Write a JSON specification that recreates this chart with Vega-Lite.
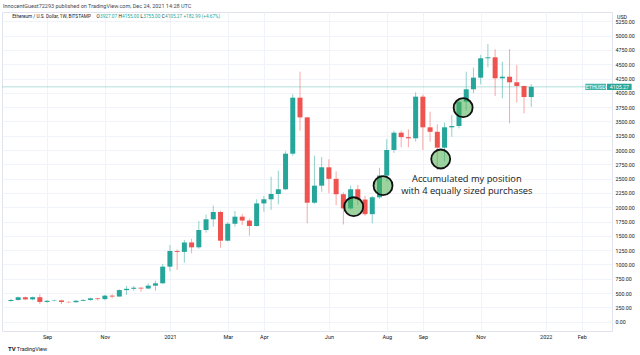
{
  "$schema": "https://vega.github.io/schema/vega-lite/v6.json",
  "autosize": {"type": "none"},
  "width": 610,
  "height": 319,
  "padding": {"left": 2, "top": 12, "right": 28, "bottom": 24},
  "background": "white",
  "config": {
    "font": "Roboto",
    "view": {"stroke": "#e0e3eb", "strokeWidth": 1}
  },
  "title": {
    "text": "InnocentGuest72293 published on TradingView.com, Dec 24, 2021 14:28 UTC",
    "anchor": "start",
    "frame": "group",
    "fontSize": 5.5,
    "fontWeight": "normal",
    "color": "#434651",
    "offset": 2.5,
    "dx": 1
  },
  "resolve": {"axis": {"x": "independent", "y": "independent"}},
  "layer": [
    {
      "data": {"name": "ohlc"},
      "mark": {"type": "rule", "strokeWidth": 1, "opacity": 0.5},
      "encoding": {
        "x": {
          "field": "date",
          "type": "temporal",
          "scale": {"type": "utc", "domain": [{"year": 2020, "month": 7, "date": 30, "hours": 4, "minutes": 48, "utc": true}, {"year": 2022, "month": 3, "date": 3, "hours": 8, "minutes": 24, "utc": true}], "nice": false},
          "axis": {
            "orient": "bottom",
            "title": null,
            "values": [
              {"year": 2020, "month": 9, "date": 7, "utc": true},
              {"year": 2020, "month": 11, "date": 2, "utc": true},
              {"year": 2021, "month": 1, "date": 4, "utc": true},
              {"year": 2021, "month": 3, "date": 1, "utc": true},
              {"year": 2021, "month": 4, "date": 5, "utc": true},
              {"year": 2021, "month": 6, "date": 7, "utc": true},
              {"year": 2021, "month": 8, "date": 2, "utc": true},
              {"year": 2021, "month": 9, "date": 6, "utc": true},
              {"year": 2021, "month": 11, "date": 1, "utc": true},
              {"year": 2022, "month": 1, "date": 3, "utc": true},
              {"year": 2022, "month": 2, "date": 7, "utc": true}
            ],
            "labelExpr": "utcFormat(datum.value, '%m') == '01' ? utcFormat(datum.value, '%Y') : utcFormat(datum.value, '%b')",
            "grid": true,
            "gridColor": "#f0f3fa",
            "domain": false,
            "ticks": false,
            "labelPadding": 3,
            "labelFontSize": 5.5,
            "labelColor": "#131722",
            "labelOverlap": false
          }
        },
        "y": {
          "field": "low",
          "type": "quantitative",
          "scale": {"domain": [-162.7, 5414], "nice": false, "zero": false},
          "axis": {
            "orient": "right",
            "values": [0, 250, 500, 750, 1000, 1250, 1500, 1750, 2000, 2250, 2500, 2750, 3000, 3250, 3500, 3750, 4000, 4250, 4500, 4750, 5000, 5250],
            "format": ".2f",
            "grid": true,
            "gridColor": "#f0f3fa",
            "domain": false,
            "ticks": false,
            "labelPadding": 3,
            "labelFontSize": 5.3,
            "labelColor": "#131722",
            "labelOverlap": false,
            "title": "USD",
            "titleAngle": 0,
            "titleX": 9.5,
            "titleY": 4,
            "titleAlign": "center",
            "titleBaseline": "middle",
            "titleFontSize": 5.3,
            "titleFontWeight": "normal",
            "titleColor": "#131722"
          }
        },
        "y2": {"field": "high"},
        "color": {"condition": {"test": "datum.close >= datum.open", "value": "#26a69a"}, "value": "#ef5350"}
      }
    },
    {
      "data": {"values": [{"price": 4105.27}]},
      "mark": {"type": "rule", "color": "#26a69a", "opacity": 0.35, "strokeWidth": 1},
      "encoding": {
        "y": {"field": "price", "type": "quantitative", "axis": null}
      }
    },
    {
      "data": {"name": "ohlc"},
      "mark": {"type": "bar", "size": 5},
      "encoding": {
        "x": {"field": "date", "type": "temporal", "axis": null},
        "y": {"field": "open", "type": "quantitative", "axis": null},
        "y2": {"field": "close"},
        "color": {"condition": {"test": "datum.close >= datum.open", "value": "#26a69a"}, "value": "#ef5350"}
      }
    },
    {
      "data": {"values": [
        {"date": "2021-07-01T00:00:00Z", "price": 2010},
        {"date": "2021-07-29T10:00:00Z", "price": 2378},
        {"date": "2021-09-23T07:00:00Z", "price": 2844},
        {"date": "2021-10-15T00:00:00Z", "price": 3741}
      ]},
      "mark": {"type": "point", "shape": "circle", "size": 360, "filled": true, "fill": "#4caf50", "fillOpacity": 0.55, "stroke": "#111111", "strokeWidth": 1.8, "strokeOpacity": 1},
      "encoding": {
        "x": {"field": "date", "type": "temporal", "axis": null},
        "y": {"field": "price", "type": "quantitative", "axis": null}
      }
    },
    {
      "data": {"values": [
        {"date": "2021-10-18T14:00:00Z", "price": 2487, "text": "Accumulated my position"},
        {"date": "2021-10-18T14:00:00Z", "price": 2283, "text": "with 4 equally sized purchases"}
      ]},
      "mark": {"type": "text", "font": "Open Sans", "fontSize": 9.3, "color": "#131722", "align": "center", "baseline": "middle"},
      "encoding": {
        "x": {"field": "date", "type": "temporal", "axis": null},
        "y": {"field": "price", "type": "quantitative", "axis": null},
        "text": {"field": "text"}
      }
    },
    {
      "data": {"values": [
        {"x1": "2022-02-10T10:00:00Z", "x2": "2022-03-02T10:00:00Z", "lo": 4050, "hi": 4160}
      ]},
      "mark": {"type": "rect", "color": "#26a69a", "opacity": 0.85},
      "encoding": {
        "x": {"field": "x1", "type": "temporal", "axis": null},
        "x2": {"field": "x2"},
        "y": {"field": "lo", "type": "quantitative", "axis": null},
        "y2": {"field": "hi"}
      }
    },
    {
      "data": {"values": [
        {"x1": "2022-03-03T08:00:00Z", "x2": "2022-03-27T05:00:00Z", "lo": 4050, "hi": 4160}
      ]},
      "mark": {"type": "rect", "color": "#26a69a", "opacity": 1},
      "encoding": {
        "x": {"field": "x1", "type": "temporal", "axis": null},
        "x2": {"field": "x2"},
        "y": {"field": "lo", "type": "quantitative", "axis": null},
        "y2": {"field": "hi"}
      }
    },
    {
      "data": {"values": [
        {"date": "2022-02-20T10:00:00Z", "price": 4105.27, "text": "ETHUSD"},
        {"date": "2022-03-15T07:00:00Z", "price": 4105.27, "text": "4105.27"}
      ]},
      "mark": {"type": "text", "fontSize": 5.3, "color": "white", "align": "center", "baseline": "middle"},
      "encoding": {
        "x": {"field": "date", "type": "temporal", "axis": null},
        "y": {"field": "price", "type": "quantitative", "axis": null},
        "text": {"field": "text"}
      }
    },
    {
      "data": {"values": [
        {"date": "2020-08-04T05:30:00Z", "text": "Ethereum / U.S. Dollar, 1W, BITSTAMP"},
        {"date": "2020-10-24T21:07:00Z", "text": "O"},
        {"date": "2020-11-15T02:53:00Z", "text": "H"},
        {"date": "2020-12-06T11:17:00Z", "text": "L"},
        {"date": "2020-12-27T01:12:00Z", "text": "C"}
      ]},
      "mark": {"type": "text", "fontSize": 4.7, "color": "#131722", "align": "left", "baseline": "middle"},
      "encoding": {
        "x": {"field": "date", "type": "temporal", "axis": null},
        "y": {"datum": 5332, "type": "quantitative", "axis": null},
        "text": {"field": "text"}
      }
    },
    {
      "data": {"values": [
        {"date": "2020-10-28T07:26:00Z", "text": "3927.07"},
        {"date": "2020-11-18T15:36:00Z", "text": "4155.00"},
        {"date": "2020-12-09T05:31:00Z", "text": "3755.00"},
        {"date": "2020-12-30T06:58:00Z", "text": "4105.27"},
        {"date": "2021-01-17T02:24:00Z", "text": "+182.99 (+4.67%)"}
      ]},
      "mark": {"type": "text", "fontSize": 4.7, "color": "#26a69a", "align": "left", "baseline": "middle"},
      "encoding": {
        "x": {"field": "date", "type": "temporal", "axis": null},
        "y": {"datum": 5332, "type": "quantitative", "axis": null},
        "text": {"field": "text"}
      }
    },
    {
      "data": {"values": [
        {"date": "2020-07-31T02:00:00Z", "text": "TV", "price": -477}
      ]},
      "mark": {"type": "text", "fontSize": 6, "fontWeight": "bold", "color": "#131722", "align": "left", "baseline": "middle"},
      "encoding": {
        "x": {"field": "date", "type": "temporal", "axis": null},
        "y": {"field": "price", "type": "quantitative", "axis": null},
        "text": {"field": "text"}
      }
    },
    {
      "data": {"values": [
        {"date": "2020-08-08T17:00:00Z", "text": "TradingView", "price": -477}
      ]},
      "mark": {"type": "text", "fontSize": 5.5, "color": "#131722", "align": "left", "baseline": "middle"},
      "encoding": {
        "x": {"field": "date", "type": "temporal", "axis": null},
        "y": {"field": "price", "type": "quantitative", "axis": null},
        "text": {"field": "text"}
      }
    }
  ],
  "datasets": {
    "ohlc": [
      {"date": "2020-08-03", "open": 362, "high": 392, "low": 350, "close": 380},
      {"date": "2020-08-10", "open": 380, "high": 440, "low": 370, "close": 427},
      {"date": "2020-08-17", "open": 427, "high": 440, "low": 375, "close": 390},
      {"date": "2020-08-24", "open": 390, "high": 440, "low": 375, "close": 428},
      {"date": "2020-08-31", "open": 428, "high": 480, "low": 310, "close": 345},
      {"date": "2020-09-07", "open": 345, "high": 375, "low": 330, "close": 365},
      {"date": "2020-09-14", "open": 365, "high": 385, "low": 355, "close": 372},
      {"date": "2020-09-21", "open": 372, "high": 385, "low": 310, "close": 345},
      {"date": "2020-09-28", "open": 345, "high": 360, "low": 330, "close": 340},
      {"date": "2020-10-05", "open": 340, "high": 375, "low": 335, "close": 366},
      {"date": "2020-10-12", "open": 366, "high": 395, "low": 360, "close": 380},
      {"date": "2020-10-19", "open": 380, "high": 420, "low": 365, "close": 408},
      {"date": "2020-10-26", "open": 408, "high": 415, "low": 370, "close": 395},
      {"date": "2020-11-02", "open": 395, "high": 470, "low": 375, "close": 455},
      {"date": "2020-11-09", "open": 455, "high": 480, "low": 410, "close": 440},
      {"date": "2020-11-16", "open": 440, "high": 566, "low": 435, "close": 552},
      {"date": "2020-11-23", "open": 552, "high": 624, "low": 467, "close": 575},
      {"date": "2020-11-30", "open": 575, "high": 624, "low": 540, "close": 594},
      {"date": "2020-12-07", "open": 594, "high": 600, "low": 524, "close": 580},
      {"date": "2020-12-14", "open": 580, "high": 671, "low": 570, "close": 630},
      {"date": "2020-12-21", "open": 630, "high": 717, "low": 542, "close": 671},
      {"date": "2020-12-28", "open": 671, "high": 1009, "low": 665, "close": 962},
      {"date": "2021-01-04", "open": 962, "high": 1341, "low": 881, "close": 1236},
      {"date": "2021-01-11", "open": 1236, "high": 1266, "low": 904, "close": 1220},
      {"date": "2021-01-18", "open": 1220, "high": 1428, "low": 1032, "close": 1385},
      {"date": "2021-01-25", "open": 1385, "high": 1451, "low": 1196, "close": 1300},
      {"date": "2021-02-01", "open": 1300, "high": 1760, "low": 1276, "close": 1603},
      {"date": "2021-02-08", "open": 1603, "high": 1871, "low": 1556, "close": 1790},
      {"date": "2021-02-15", "open": 1790, "high": 2028, "low": 1661, "close": 1918},
      {"date": "2021-02-22", "open": 1918, "high": 1940, "low": 1294, "close": 1416},
      {"date": "2021-03-01", "open": 1416, "high": 1740, "low": 1405, "close": 1712},
      {"date": "2021-03-08", "open": 1712, "high": 1935, "low": 1661, "close": 1836},
      {"date": "2021-03-15", "open": 1836, "high": 1883, "low": 1690, "close": 1768},
      {"date": "2021-03-22", "open": 1768, "high": 1801, "low": 1504, "close": 1673},
      {"date": "2021-03-29", "open": 1673, "high": 2140, "low": 1665, "close": 2068},
      {"date": "2021-04-05", "open": 2068, "high": 2198, "low": 1923, "close": 2140},
      {"date": "2021-04-12", "open": 2140, "high": 2535, "low": 1953, "close": 2232},
      {"date": "2021-04-19", "open": 2232, "high": 2640, "low": 2052, "close": 2315},
      {"date": "2021-04-26", "open": 2315, "high": 2979, "low": 2300, "close": 2937},
      {"date": "2021-05-03", "open": 2937, "high": 3976, "low": 2900, "close": 3916},
      {"date": "2021-05-10", "open": 3916, "high": 4371, "low": 3339, "close": 3572},
      {"date": "2021-05-17", "open": 3572, "high": 3580, "low": 1720, "close": 2080},
      {"date": "2021-05-24", "open": 2080, "high": 2902, "low": 2060, "close": 2378},
      {"date": "2021-05-31", "open": 2378, "high": 2879, "low": 2273, "close": 2699},
      {"date": "2021-06-07", "open": 2699, "high": 2839, "low": 2245, "close": 2497},
      {"date": "2021-06-14", "open": 2497, "high": 2629, "low": 2035, "close": 2228},
      {"date": "2021-06-21", "open": 2228, "high": 2260, "low": 1700, "close": 1980},
      {"date": "2021-06-28", "open": 1980, "high": 2378, "low": 1960, "close": 2315},
      {"date": "2021-07-05", "open": 2315, "high": 2390, "low": 2040, "close": 2135},
      {"date": "2021-07-12", "open": 2135, "high": 2200, "low": 1850, "close": 1880},
      {"date": "2021-07-19", "open": 1880, "high": 2200, "low": 1720, "close": 2175},
      {"date": "2021-07-26", "open": 2175, "high": 2690, "low": 2150, "close": 2555},
      {"date": "2021-08-02", "open": 2555, "high": 3190, "low": 2450, "close": 3002},
      {"date": "2021-08-09", "open": 3002, "high": 3339, "low": 2950, "close": 3304},
      {"date": "2021-08-16", "open": 3304, "high": 3339, "low": 3049, "close": 3226},
      {"date": "2021-08-23", "open": 3226, "high": 3364, "low": 3049, "close": 3206},
      {"date": "2021-08-30", "open": 3206, "high": 4010, "low": 3150, "close": 3934},
      {"date": "2021-09-06", "open": 3934, "high": 3970, "low": 3002, "close": 3398},
      {"date": "2021-09-13", "open": 3398, "high": 3671, "low": 3147, "close": 3320},
      {"date": "2021-09-20", "open": 3320, "high": 3450, "low": 2650, "close": 3042},
      {"date": "2021-09-27", "open": 3042, "high": 3479, "low": 2800, "close": 3398},
      {"date": "2021-10-04", "open": 3398, "high": 3614, "low": 3234, "close": 3421},
      {"date": "2021-10-11", "open": 3421, "high": 3900, "low": 3380, "close": 3846},
      {"date": "2021-10-18", "open": 3846, "high": 4370, "low": 3690, "close": 4063},
      {"date": "2021-10-25", "open": 4063, "high": 4441, "low": 3993, "close": 4266},
      {"date": "2021-11-01", "open": 4266, "high": 4663, "low": 4150, "close": 4605},
      {"date": "2021-11-08", "open": 4605, "high": 4855, "low": 4448, "close": 4622},
      {"date": "2021-11-15", "open": 4622, "high": 4762, "low": 3946, "close": 4255},
      {"date": "2021-11-22", "open": 4255, "high": 4545, "low": 3906, "close": 4283},
      {"date": "2021-11-29", "open": 4283, "high": 4767, "low": 3468, "close": 4185},
      {"date": "2021-12-06", "open": 4185, "high": 4488, "low": 3829, "close": 4121},
      {"date": "2021-12-13", "open": 4121, "high": 4125, "low": 3643, "close": 3927.07},
      {"date": "2021-12-20", "open": 3927.07, "high": 4155, "low": 3755, "close": 4105.27}
    ]
  }
}
